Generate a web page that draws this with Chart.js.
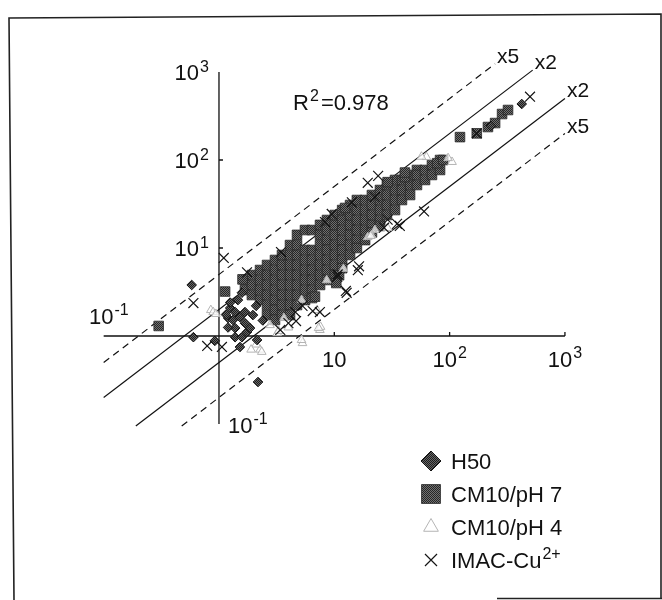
<!DOCTYPE html>
<html>
<head>
<meta charset="utf-8">
<script src="https://cdn.jsdelivr.net/npm/chart.js@4.4.1/dist/chart.umd.min.js"></script>
<style>
  html, body { margin: 0; padding: 0; background: #fff; }
  canvas { display: block; }
</style>
</head>
<body>
<canvas id="fig" width="662" height="600"></canvas>
<script>
// Log-log comparison of the four preparations against each other

// H50 (diamonds)
const h50 = [
    [0.58, 3.8], [0.60, 0.97], [0.92, 0.88], [2.18, 0.30], [1.25, 2.08], [1.38, 1.87],
    [1.2, 1.6], [1.32, 1.52], [1.52, 1.64], [1.38, 1.23], [1.68, 1.40], [1.75, 1.11],
    [1.38, 0.97], [1.58, 0.97], [1.52, 0.75], [2.14, 0.90], [1.86, 1.23], [1.97, 1.73],
    [1.68, 1.87], [1.46, 2.56], [1.58, 3.1], [1.25, 2.4], [2.4, 1.5], [2.1, 2.2],
    [1.15, 1.75], [1.2, 1.25], [228, 244], [422, 433]
];

// CM10/pH 7 (squares): dense band, one entry per x with the y values read there
const cm10ph7Columns = [
    [1.68, [4.33, 3.33]],
    [1.93, [4.93, 3.80, 2.92]],
    [2.27, [5.62, 4.33, 3.33, 2.56]],
    [2.61, [6.41, 4.93, 3.80, 2.92, 2.25, 1.73]],
    [3.06, [7.31, 5.62, 4.33, 3.33, 2.56, 1.97, 1.52]],
    [3.52, [8.33, 6.41, 4.93, 3.80, 2.92, 2.25, 1.73]],
    [4.13, [10.8, 8.33, 6.41, 4.93, 3.80, 2.92, 2.25, 1.73]],
    [4.75, [14.1, 10.8, 8.33, 6.41, 4.93, 3.80, 2.92, 2.25]],
    [5.57, [16.0, 9.49, 7.31, 5.62, 4.33, 3.33, 2.56]],
    [6.41, [16.0, 9.49, 7.31, 5.62, 4.33, 3.33, 2.7]],
    [7.52, [18.3, 14.1, 10.8, 8.33, 6.41, 4.93, 3.80]],
    [8.64, [20.8, 16.0, 12.3, 9.49, 7.31, 5.62, 4.33]],
    [10.1, [23.7, 18.3, 14.1, 10.8, 8.33, 6.41, 4.93]],
    [11.7, [27.0, 20.8, 16.0, 12.3, 9.49, 7.31, 5.9]],
    [13.7, [30.8, 23.7, 18.3, 14.1, 10.8, 8.33]],
    [15.7, [35.1, 27.0, 20.8, 16.0, 12.3, 10.0]],
    [18.5, [35.1, 27.0, 20.8, 16.0, 12.3]],
    [21.2, [40.0, 30.8, 23.7, 18.3, 15.0]],
    [24.9, [45.6, 35.1, 27.0, 20.8, 17.8]],
    [28.6, [52.0, 40.0, 30.8, 23.7]],
    [33.6, [59.3, 45.6, 35.1, 27.0]],
    [38.6, [59.3, 45.6, 35.1]],
    [45.4, [67.6, 52.0, 40.0]],
    [52.1, [77.0, 67.6, 52.0]],
    [61.2, [77.0, 59.3]],
    [70.3, [87.7, 67.6]],
    [82.6, [100, 77.0]]
];
const cm10ph7Extra = [
    [0.3, 1.3], [1.13, 3.2], [1.6, 4.4], [11, 4.9], [6.8, 2.8], [10.4, 4.0], [12.4, 28.5],
    [29, 56], [41, 64], [41, 72], [78, 92], [88, 100], [123, 182], [172, 201],
    [215, 237], [248, 263], [285, 333], [321, 370]
];

// CM10/pH 4 (triangles)
const cm10ph4 = [
    [0.85, 1.97], [0.89, 1.87], [0.94, 1.78], [2.27, 0.70], [2.35, 0.66], [5.3, 0.83],
    [7.5, 1.17], [3.2, 1.08], [7.1, 1.97], [2.77, 1.33], [3.66, 1.6], [19.5, 13.3],
    [22.5, 16.0], [63, 108], [105, 95], [57, 109], [97, 105], [21, 14], [5.2, 2.56],
    [8.6, 4.3], [12, 5.8], [29, 16.9], [20.7, 13.7], [7.6, 1.27], [5.2, 0.9], [2.1, 0.8],
    [3.3, 1.14], [4.0, 1.25], [1.9, 0.7], [7.3, 1.23]
];

// IMAC-Cu2+ (crosses)
const imacCu = [
    [1.1, 7.7], [0.6, 2.37], [0.79, 0.77], [1.06, 0.75], [1.75, 5.3], [3.45, 9.0],
    [3.4, 1.17], [4.0, 1.4], [4.6, 1.87], [5.3, 2.2], [6.5, 1.92], [7.5, 1.87],
    [12.8, 3.1], [10.6, 4.7], [16, 5.6], [8.3, 19.7], [9.5, 24.4], [14.2, 33],
    [19.5, 55], [24, 66], [22.5, 38], [37, 17.8], [60, 26], [172, 201], [498, 524],
    [27, 17], [29, 21], [35, 18.8], [4.66, 1.48], [16.4, 6.2], [12.6, 3.25], [10.7, 5.0]
];

// Fold-change guide lines (start and end point of each)
const foldLabels = ['x5', 'x2', 'x2', 'x5'];
const foldLineEnds = [
    [[0.1, 0.5], [248, 1240]],
    [[0.1, 0.2], [525, 1050]],
    [[0.19, 0.095], [1000, 500]],
    [[0.475, 0.095], [1000, 200]]
];

// Axis ticks and their labels (base, exponent)
const xTicks = [10, 100, 1000];
const xTickText = [['10', ''], ['10', '2'], ['10', '3']];
const yTicks = [10, 100, 1000];
const yTickText = [['10', '1'], ['10', '2'], ['10', '3']];
const axisMin = 0.1;
const axisMax = 1000;
const r2Text = '=0.978';

const legendNames = [['H50', ''], ['CM10/pH 7', ''], ['CM10/pH 4', ''], ['IMAC-Cu', '2+']];

// ---- styling ----
const FONT = '"Liberation Sans", Arial, Helvetica, sans-serif';
const INK = '#111';

function dither(dark, light) {
    const c = document.createElement('canvas');
    c.width = 2;
    c.height = 2;
    const g = c.getContext('2d');
    g.fillStyle = light;
    g.fillRect(0, 0, 2, 2);
    g.fillStyle = dark;
    g.fillRect(0, 0, 1, 1);
    g.fillRect(1, 1, 1, 1);
    return g.createPattern(c, 'repeat');
}

const toXY = arr => arr.map(([x, y]) => ({ x, y }));
const cm10ph7 = cm10ph7Columns
    .flatMap(([x, ys]) => ys.map(y => ({ x, y })))
    .concat(toXY(cm10ph7Extra));

const squareFill = dither('#262626', '#707070');
const diamondFill = dither('#1e1e1e', '#666');

const markerStyles = [
    { pointStyle: 'rectRot', backgroundColor: diamondFill, borderColor: '#111', borderWidth: 1, radius: 4.8, legendRadius: 10 },
    { pointStyle: 'rect', backgroundColor: squareFill, borderColor: '#2a2a2a', borderWidth: 0.8, radius: 6.8, legendRadius: 13.4 },
    { pointStyle: 'triangle', backgroundColor: 'rgba(255,255,255,0.7)', borderColor: '#b4b4b4', borderWidth: 1, radius: 5, legendRadius: 8.5 },
    { pointStyle: 'crossRot', backgroundColor: 'transparent', borderColor: '#151515', borderWidth: 1.2, radius: 7, legendRadius: 8.5 }
];
const markerSeries = [toXY(h50), cm10ph7, toXY(cm10ph4), toXY(imacCu)];
const markerOrder = [2, 4, 3, 1];
const foldDashed = [true, false, false, true];

const datasets = [];
markerSeries.forEach((data, i) => {
    const s = markerStyles[i];
    datasets.push({
        label: legendNames[i][0],
        data: data,
        pointStyle: s.pointStyle,
        pointRadius: s.radius,
        pointBackgroundColor: s.backgroundColor,
        pointBorderColor: s.borderColor,
        pointBorderWidth: s.borderWidth,
        showLine: false,
        order: markerOrder[i]
    });
});
foldLineEnds.forEach((ends, i) => {
    datasets.push({
        label: foldLabels[i],
        data: toXY(ends),
        showLine: true,
        pointRadius: 0,
        borderColor: INK,
        borderWidth: 1.2,
        borderDash: foldDashed[i] ? [7, 5] : [],
        order: 5
    });
});

// text with a raised exponent; align 'left' | 'right' | 'center' about x
function powText(ctx, base, exp, x, y, align, size) {
    const supSize = Math.round(size * 0.72);
    ctx.font = `${size}px ${FONT}`;
    const wb = ctx.measureText(base).width;
    ctx.font = `${supSize}px ${FONT}`;
    const we = exp ? ctx.measureText(exp).width + 1 : 0;
    let x0 = x;
    if (align === 'right') x0 = x - wb - we;
    else if (align === 'center') x0 = x - (wb + we) / 2;
    ctx.textAlign = 'left';
    ctx.textBaseline = 'alphabetic';
    ctx.font = `${size}px ${FONT}`;
    ctx.fillText(base, x0, y);
    if (exp) {
        ctx.font = `${supSize}px ${FONT}`;
        ctx.fillText(exp, x0 + wb + 1, y - size * 0.4);
    }
}

const decorations = {
    id: 'decorations',
    beforeDatasetsDraw(chart) {
        const ctx = chart.ctx;
        const xs = chart.scales.x;
        const ys = chart.scales.y;
        const ox = xs.getPixelForValue(1);
        const oy = ys.getPixelForValue(1);
        ctx.save();
        ctx.strokeStyle = INK;
        ctx.lineWidth = 1.3;
        ctx.beginPath();
        ctx.moveTo(xs.getPixelForValue(axisMin), oy);
        ctx.lineTo(xs.getPixelForValue(axisMax), oy);
        ctx.moveTo(ox, ys.getPixelForValue(axisMin));
        ctx.lineTo(ox, ys.getPixelForValue(axisMax));
        xTicks.forEach(v => {
            const px = xs.getPixelForValue(v);
            ctx.moveTo(px, oy);
            ctx.lineTo(px, oy - 4);
        });
        yTicks.slice(0, 2).forEach(v => {
            const py = ys.getPixelForValue(v);
            ctx.moveTo(ox, py);
            ctx.lineTo(ox + 4, py);
        });
        ctx.stroke();
        ctx.restore();
    },
    afterDraw(chart) {
        const ctx = chart.ctx;
        const xs = chart.scales.x;
        const ys = chart.scales.y;
        const ox = xs.getPixelForValue(1);
        const oy = ys.getPixelForValue(1);
        ctx.save();
        ctx.fillStyle = INK;

        // tick labels
        xTicks.forEach((v, i) => {
            powText(ctx, xTickText[i][0], xTickText[i][1], xs.getPixelForValue(v), oy + 31, 'center', 22);
        });
        yTicks.forEach((v, i) => {
            powText(ctx, yTickText[i][0], yTickText[i][1], ox - 10, ys.getPixelForValue(v) + 8.5, 'right', 22);
        });
        powText(ctx, '10', '-1', xs.getPixelForValue(axisMin) + 25, oy - 12, 'right', 22);
        powText(ctx, '10', '-1', ox + 9, ys.getPixelForValue(axisMin) + 9, 'left', 22);

        // R squared
        powText(ctx, 'R', '2', 293, 110, 'left', 22);
        ctx.font = `22px ${FONT}`;
        ctx.fillText(r2Text, 293 + ctx.measureText('R').width + 12, 110);

        // fold line labels at the upper end of each line
        ctx.font = `21px ${FONT}`;
        ctx.textAlign = 'left';
        foldLineEnds.forEach((ends, i) => {
            const ex = xs.getPixelForValue(ends[1][0]);
            const ey = ys.getPixelForValue(ends[1][1]);
            ctx.fillText(foldLabels[i], ex + 2, ey - 1);
        });

        // legend
        const lx = 431;
        const rows = [461, 494, 527, 560];
        markerStyles.forEach((s, i) => {
            ctx.save();
            ctx.fillStyle = s.backgroundColor;
            ctx.strokeStyle = s.borderColor;
            ctx.lineWidth = s.borderWidth;
            Chart.helpers.drawPoint(ctx, {
                pointStyle: s.pointStyle,
                radius: s.legendRadius,
                borderWidth: s.borderWidth,
                rotation: 0
            }, lx, rows[i]);
            ctx.restore();
            powText(ctx, legendNames[i][0], legendNames[i][1], 451, rows[i] + 8, 'left', 22);
        });

        // frame around the figure
        ctx.strokeStyle = '#222';
        ctx.lineWidth = 1.6;
        ctx.beginPath();
        ctx.moveTo(14, 600);
        ctx.lineTo(9, 18);
        ctx.lineTo(661, 14);
        ctx.lineTo(661, 599);
        ctx.moveTo(497, 598.5);
        ctx.lineTo(662, 598.5);
        ctx.stroke();
        ctx.restore();
    }
};

new Chart(document.getElementById('fig'), {
    type: 'scatter',
    data: { datasets: datasets },
    options: {
        responsive: false,
        animation: false,
        devicePixelRatio: 1,
        layout: { padding: { left: 97.9, right: 91.3, top: 63.2, bottom: 167.2 } },
        plugins: {
            legend: { display: false },
            tooltip: { enabled: false }
        },
        scales: {
            x: { type: 'logarithmic', display: false, min: 0.08913, max: 1122 },
            y: { type: 'logarithmic', display: false, min: 0.07943, max: 1258.9 }
        }
    },
    plugins: [decorations]
});
</script>
</body>
</html>
